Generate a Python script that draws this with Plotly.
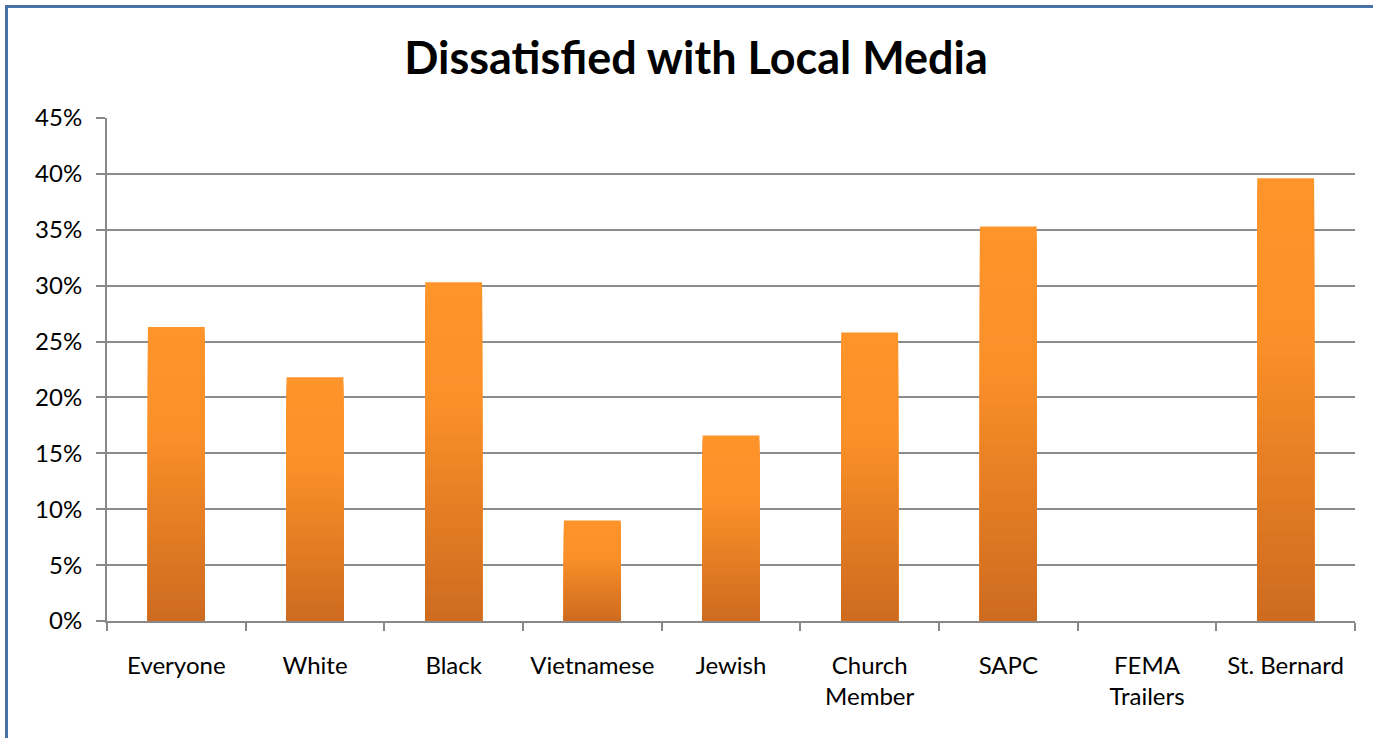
import plotly.graph_objects as go

categories = ["Everyone", "White", "Black", "Vietnamese", "Jewish",
              "Church<br>Member", "SAPC", "FEMA<br>Trailers", "St. Bernard"]
values = [0.263, 0.218, 0.303, 0.090, 0.166, 0.258, 0.353, 0.0, 0.396]
y_ticks = [0, 0.05, 0.10, 0.15, 0.20, 0.25, 0.30, 0.35, 0.40, 0.45]
y_tick_labels = ["0%", "5%", "10%", "15%", "20%", "25%", "30%", "35%", "40%", "45%"]

W, H = 1373, 738
L, R, T, B = 107, 18, 118, 117
pw, ph = W - L - R, H - T - B

top_rgb = (255, 148, 42)
mid_rgb = (240, 135, 40)
bot_rgb = (204, 106, 31)

def lerp(a, b, t):
    return tuple(int(round(a[i] + (b[i] - a[i]) * t)) for i in range(3))

def grad(f):
    # f: 0 at top, 1 at bottom
    if f < 0.35:
        c = lerp(top_rgb, mid_rgb, f / 0.35 * 0.3)
    else:
        c = lerp(lerp(top_rgb, mid_rgb, 0.3), bot_rgb, (f - 0.35) / 0.65)
    return "rgb(%d,%d,%d)" % c

fig = go.Figure()
N = 40
for k in range(N):
    frac = 1 - k / N
    fig.add_trace(go.Bar(
        x=categories, y=[v * frac for v in values],
        marker=dict(color=grad(k / N), line=dict(width=0)),
        width=0.41, hoverinfo="skip" if k else "y", showlegend=False,
    ))

fig.update_layout(
    width=W, height=H,
    margin=dict(l=L, r=R, t=T, b=B),
    barmode="overlay",
    paper_bgcolor="white", plot_bgcolor="white",
    font=dict(family="Lato, Calibri, sans-serif", size=24, color="black"),
    title=dict(text="<b>Dissatisfied with Local Media</b>", x=(696) / W, xanchor="center",
               y=1 - 58 / H, yanchor="middle",
               font=dict(family="Lato, Calibri, sans-serif", size=45, color="black")),
    xaxis=dict(showgrid=False, showline=True, linecolor="#888888", linewidth=2,
               ticks="outside", tickson="boundaries", ticklen=8, tickwidth=2, tickcolor="#888888",
               tickfont=dict(size=24), zeroline=False, ticklabelstandoff=22),
    yaxis=dict(range=[0, 0.45], tickvals=y_ticks, ticktext=y_tick_labels,
               showgrid=True, gridcolor="#8c8c8c", gridwidth=2,
               showline=True, linecolor="#888888", linewidth=2,
               ticks="outside", ticklen=9, tickwidth=2, tickcolor="#888888",
               ticklabelstandoff=9, zeroline=False),
    shapes=[dict(type="rect", xref="paper", yref="paper",
                 x0=(6.5 - L) / pw, x1=(W + 10 - L) / pw,
                 y0=1 + (T - 6.5) / ph, y1=-(H + 10 - T - ph) / ph,
                 line=dict(color="#4a72a8", width=3), layer="above")],
)

fig.write_html("out.html", config={"displayModeBar": False},
               post_script="document.body.style.margin='0';document.body.style.overflow='hidden';")
